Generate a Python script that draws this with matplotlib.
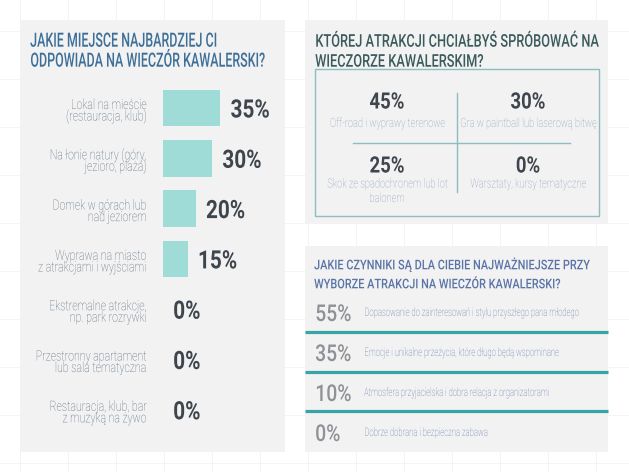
import matplotlib
matplotlib.use("Agg")
import matplotlib.pyplot as plt
from matplotlib import font_manager
from matplotlib.patches import Rectangle
from matplotlib.patheffects import AbstractPathEffect
from matplotlib.transforms import Affine2D, Bbox

# ---------------- data ----------------
left_title = ["JAKIE MIEJSCE NAJBARDZIEJ CI", "ODPOWIADA NA WIECZÓR KAWALERSKI?"]
left_categories = [
    "Lokal na mieście\n(restauracja, klub)",
    "Na łonie natury (góry,\njezioro, plaża)",
    "Domek w górach lub\nnad jeziorem",
    "Wyprawa na miasto\nz atrakcjami i wyjściami",
    "Ekstremalne atrakcje,\nnp. park rozrywki",
    "Przestronny apartament\nlub sala tematyczna",
    "Restauracja, klub, bar\nz muzyką na żywo",
]
left_values = [35, 30, 20, 15, 0, 0, 0]

attr_title = ["KTÓREJ ATRAKCJI CHCIAŁBYŚ SPRÓBOWAĆ NA", "WIECZORZE KAWALERSKIM?"]
attr_labels = [
    "Off-road i wyprawy terenowe",
    "Gra w paintball lub laserową bitwę",
    "Skok ze spadochronem lub lot\nbalonem",
    "Warsztaty, kursy tematyczne",
]
attr_values = [45, 30, 25, 0]

factor_title = ["JAKIE CZYNNIKI SĄ DLA CIEBIE NAJWAŻNIEJSZE PRZY",
                "WYBORZE ATRAKCJI NA WIECZÓR KAWALERSKI?"]
factor_labels = [
    "Dopasowanie do zainteresowań i stylu przyszłego pana młodego",
    "Emocje i unikalne przeżycia, które długo będą wspominane",
    "Atmosfera przyjacielska i dobra relacja z organizatorami",
    "Dobrze dobrana i bezpieczna zabawa",
]
factor_values = [55, 35, 10, 0]

# ---------------- fonts ----------------
names = {f.name for f in font_manager.fontManager.ttflist}
fam = [n for n in ["Roboto"] if n in names] + ["DejaVu Sans"]
plt.rcParams["font.family"] = fam
CAP = 0.711 if "Roboto" in names else 0.73

W, H = 629, 472
fig = plt.figure(figsize=(W / 100, H / 100), dpi=100)
fig.patch.set_facecolor("white")
bg = fig.add_axes([0, 0, 1, 1])
bg.set_xlim(0, W)
bg.set_ylim(H, 0)
bg.axis("off")
renderer = fig.canvas.get_renderer()


class Squeeze(AbstractPathEffect):
    """Narrow the glyphs horizontally (condensed look) around the text anchor."""

    def __init__(self, sx, anchor):
        super().__init__()
        self.sx = sx
        self.anchor = anchor

    def draw_path(self, renderer, gc, tpath, affine, rgbFace=None):
        ext = tpath.get_extents(affine)
        if self.anchor == "left":
            x0 = ext.x0
        elif self.anchor == "right":
            x0 = ext.x1
        else:
            x0 = 0.5 * (ext.x0 + ext.x1)
        t = affine + Affine2D().translate(-x0, 0).scale(self.sx, 1).translate(x0, 0)
        renderer.draw_path(gc, tpath, t, rgbFace)


def squeeze_extent(t, sx, anchor):
    orig = t.get_window_extent

    def ext(renderer=None, dpi=None):
        bb = orig(renderer, dpi)
        if anchor == "left":
            x0 = bb.x0
        elif anchor == "right":
            x0 = bb.x1
        else:
            x0 = 0.5 * (bb.x0 + bb.x1)
        return Bbox([[x0 + (bb.x0 - x0) * sx, bb.y0], [x0 + (bb.x1 - x0) * sx, bb.y1]])

    t.get_window_extent = ext


def style(texts, ref, target_w, cap_px, anchor):
    fs = cap_px / CAP * 0.72
    for t in texts:
        t.set_fontsize(fs)
    w = ref.get_window_extent(renderer).width
    sx = min(1.0, target_w / w)
    for t in texts:
        t.set_path_effects([Squeeze(sx, anchor)])
        squeeze_extent(t, sx, anchor)


# faint background grid
for x in range(20, W, 48):
    bg.plot([x, x], [0, H], color="#f3f3f3", lw=0.6, zorder=0)
for y in range(463, 0, -48):
    bg.plot([0, W], [y, y], color="#f3f3f3", lw=0.6, zorder=0)

# panels
for (x0, y0, w, h) in [(20, 20, 265, 432), (305, 20, 303, 204), (305, 246, 303, 206)]:
    bg.add_patch(Rectangle((x0, y0), w, h, fc="#f2f2f2", ec="none", zorder=1))

# ---------------- left panel ----------------
tt = [bg.text(30, 46.7 + 20 * j, line, va="baseline", ha="left", color="#3e6f98",
              fontweight="medium", zorder=3) for j, line in enumerate(left_title)]
style(tt, tt[1], 233, 14, "left")

row_h = 50.3
n = len(left_values)
top = 108 - row_h / 2
bottom = top + row_h * n
ax = fig.add_axes([163 / W, 1 - bottom / H, 164 / W, (bottom - top) / H])
ax.set_xlim(0, 100)
ax.set_ylim(n - 0.5, -0.5)
ax.axis("off")
ax.patch.set_alpha(0)
ax.barh(range(n), left_values, height=36.5 / row_h, color="#9fdcd7", zorder=2)

lab_texts = []
ref_lab = None
for i, lab in enumerate(left_categories):
    for j, line in enumerate(lab.split("\n")):
        t = ax.annotate(line, xy=(0, i), xytext=(-16, -1 - 11.5 * j),
                        textcoords="offset pixels", ha="right", va="baseline",
                        color="#56687a", fontweight="light", annotation_clip=False)
        lab_texts.append(t)
        if line == "Przestronny apartament":
            ref_lab = t
style(lab_texts, ref_lab, 111, 10, "right")

val_texts = []
for i, v in enumerate(left_values):
    val_texts.append(ax.annotate(f"{v}%", xy=(v, i), xytext=(10, 0), textcoords="offset pixels",
                                 ha="left", va="center_baseline", color="#3f454c",
                                 fontweight="bold", annotation_clip=False))
style(val_texts, val_texts[0], 39, 18, "left")

# ---------------- top-right panel ----------------
tt = [bg.text(315, 46.7 + 20 * j, line, va="baseline", ha="left", color="#3a5a5c",
              fontweight="medium", zorder=3) for j, line in enumerate(attr_title)]
style(tt, tt[0], 283, 12.5, "left")

edge = "#8fbcbe"
bg.add_patch(Rectangle((315, 69), 284, 147, fill=False, ec=edge, lw=1, zorder=3))
bg.plot([457, 457], [93, 192], color=edge, lw=1, zorder=3)
bg.plot([353, 570], [143, 143], color=edge, lw=1, zorder=3)

quad_pos = [(387, 100), (528, 100), (387, 164), (528, 164)]
label_dy = [27, 27, 23.5, 23.5]
qv, ql = [], []
for (cx, cy), dy, v, lab in zip(quad_pos, label_dy, attr_values, attr_labels):
    qv.append(bg.text(cx, cy, f"{v}%", ha="center", va="center_baseline", color="#3f454c",
                      fontweight="bold", zorder=4))
    for j, line in enumerate(lab.split("\n")):
        ql.append(bg.text(cx, cy + dy + 14.5 * j, line, ha="center", va="baseline",
                          color="#8a9bb8", fontweight="light", zorder=4))
style(qv, qv[0], 35, 16, "center")
style(ql, ql[1], 136, 9, "center")

# ---------------- bottom-right panel ----------------
tt = [bg.text(314, 269.3 + 19 * j, line, va="baseline", ha="left", color="#5a74a8",
              fontweight="medium", zorder=3) for j, line in enumerate(factor_title)]
style(tt, tt[0], 276, 9.5, "left")

fv, fl = [], []
for i, (v, lab) in enumerate(zip(factor_values, factor_labels)):
    y = 312 + 40 * i
    fv.append(bg.text(315, y, f"{v}%", ha="left", va="center_baseline", color="#8e9195",
                      fontweight="medium", zorder=4))
    fl.append(bg.text(364, y + 4, lab, ha="left", va="baseline", color="#5873a8",
                      fontweight="light", zorder=4))
    if i < len(factor_values) - 1:
        bg.plot([305, 608], [332 + 40 * i - (1 if i == 2 else 0)] * 2, color="#37a5a6",
                lw=2.3, solid_capstyle="butt", zorder=3)
style(fv, fv[0], 36, 16.5, "left")
style(fl, fl[0], 213, 8.3, "left")

fig.savefig("out.png", dpi=100)
